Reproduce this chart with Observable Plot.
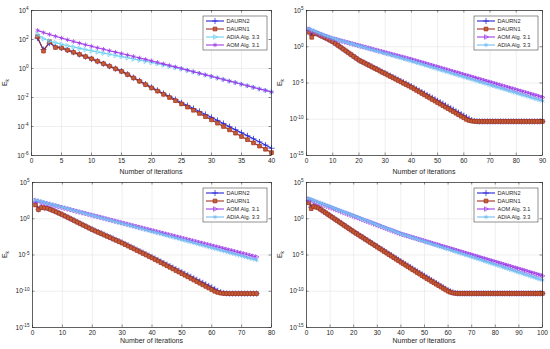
<!DOCTYPE html>
<html><head><meta charset="utf-8">
<script src="https://cdn.jsdelivr.net/npm/d3@7"></script>
<script src="https://cdn.jsdelivr.net/npm/@observablehq/plot@0.6"></script>
<style>
body{margin:0;background:#fff;}
#wrap{position:relative;width:550px;height:349px;overflow:hidden;background:#fff;font-family:"Liberation Sans",Arial,sans-serif;}
.panel{position:absolute;}
</style></head><body><div id="wrap"></div>
<script>
// ---- labels ----
const xLabelText = "Number of iterations";
const namesP1 = ["DAURN2", "DAURN1", "ADIA Alg. 3.3", "AOM Alg. 3.1"];
const namesP234 = ["DAURN2", "DAURN1", "AOM Alg. 3.1", "ADIA Alg. 3.3"];
// ---- tick values ----
const xTicksP1 = [0,5,10,15,20,25,30,35,40];
const xTicksP2 = [0,10,20,30,40,50,60,70,80,90];
const xTicksP3 = [0,10,20,30,40,50,60,70,80];
const xTicksP4 = [0,10,20,30,40,50,60,70,80,90,100];
const yTicksP1 = [1e-6,1e-4,1e-2,1e0,1e2,1e4];
const yTicksP234 = [1e-15,1e-10,1e-5,1e0,1e5];

// ---- series values (log10 of E_k), iteration = index + 1 ----
const p1Daurn2 = [2.10,1.30,1.75,1.50,1.42,1.27,1.12,0.97,0.82,0.67,
0.50,0.33,0.16,-0.01,-0.18,-0.40,-0.63,-0.85,-1.08,-1.30,
-1.51,-1.72,-1.93,-2.14,-2.36,-2.56,-2.76,-2.96,-3.17,-3.37,
-3.58,-3.79,-4.01,-4.22,-4.43,-4.64,-4.85,-5.06,-5.28,-5.50];
const p1Daurn1 = [2.20,1.20,1.85,1.45,1.42,1.27,1.12,0.97,0.82,0.67,
0.50,0.33,0.16,-0.02,-0.20,-0.42,-0.65,-0.88,-1.11,-1.34,
-1.56,-1.78,-2.00,-2.22,-2.44,-2.66,-2.88,-3.10,-3.32,-3.54,
-3.77,-4.00,-4.23,-4.46,-4.69,-4.91,-5.13,-5.35,-5.57,-5.80];
const p1Adia = [2.35,2.05,1.90,1.78,1.67,1.57,1.48,1.39,1.30,1.22,
1.14,1.06,0.98,0.90,0.82,0.74,0.66,0.58,0.50,0.42,
0.33,0.24,0.15,0.06,-0.03,-0.13,-0.24,-0.34,-0.45,-0.55,
-0.66,-0.76,-0.87,-0.97,-1.08,-1.19,-1.30,-1.41,-1.51,-1.62];
const p1Aom = [2.63,2.48,2.35,2.22,2.10,1.98,1.86,1.75,1.64,1.53,
1.43,1.33,1.23,1.13,1.03,0.93,0.83,0.73,0.63,0.53,
0.42,0.32,0.21,0.11,0.00,-0.11,-0.22,-0.33,-0.44,-0.54,
-0.65,-0.76,-0.87,-0.97,-1.08,-1.19,-1.30,-1.41,-1.51,-1.62];

const p2Daurn2 = [2.30,1.60,1.85,1.80,1.62,1.45,1.28,1.10,0.90,0.70,
0.45,0.19,-0.06,-0.32,-0.57,-0.83,-1.08,-1.34,-1.59,-1.85,
-2.03,-2.20,-2.38,-2.56,-2.74,-2.92,-3.10,-3.28,-3.46,-3.64,
-3.82,-4.00,-4.18,-4.36,-4.54,-4.72,-4.90,-5.08,-5.26,-5.45,
-5.65,-5.85,-6.05,-6.25,-6.45,-6.65,-6.85,-7.05,-7.25,-7.45,
-7.66,-7.86,-8.07,-8.27,-8.48,-8.68,-8.89,-9.09,-9.30,-9.50,
-9.72,-9.93,-10.12,-10.24,-10.28,-10.30,-10.30,-10.30,-10.30,-10.30,
-10.30,-10.30,-10.30,-10.30,-10.30,-10.30,-10.30,-10.30,-10.30,-10.30,
-10.30,-10.30,-10.30,-10.30,-10.30,-10.30,-10.30,-10.30,-10.30,-10.30];
const p2Daurn1 = [2.00,1.30,1.80,1.78,1.60,1.43,1.26,1.08,0.89,0.70,
0.45,0.19,-0.06,-0.32,-0.57,-0.83,-1.08,-1.34,-1.59,-1.85,
-2.04,-2.22,-2.41,-2.60,-2.79,-2.97,-3.16,-3.35,-3.54,-3.72,
-3.91,-4.10,-4.29,-4.47,-4.66,-4.85,-5.04,-5.22,-5.41,-5.60,
-5.81,-6.02,-6.23,-6.44,-6.65,-6.86,-7.07,-7.28,-7.49,-7.70,
-7.91,-8.12,-8.33,-8.54,-8.75,-8.96,-9.17,-9.38,-9.59,-9.80,
-10.02,-10.17,-10.25,-10.28,-10.30,-10.30,-10.30,-10.30,-10.30,-10.30,
-10.30,-10.30,-10.30,-10.30,-10.30,-10.30,-10.30,-10.30,-10.30,-10.30,
-10.30,-10.30,-10.30,-10.30,-10.30,-10.30,-10.30,-10.30,-10.30,-10.30];
const p2Aom = [2.40,2.25,2.10,1.95,1.80,1.67,1.54,1.41,1.28,1.15,
1.05,0.96,0.86,0.77,0.67,0.57,0.48,0.38,0.29,0.19,
0.09,0.00,-0.10,-0.19,-0.29,-0.39,-0.48,-0.58,-0.67,-0.77,
-0.87,-0.96,-1.06,-1.15,-1.25,-1.35,-1.44,-1.54,-1.63,-1.73,
-1.84,-1.94,-2.05,-2.15,-2.26,-2.36,-2.47,-2.57,-2.68,-2.78,
-2.89,-2.99,-3.10,-3.20,-3.31,-3.41,-3.52,-3.62,-3.73,-3.83,
-3.94,-4.04,-4.15,-4.25,-4.36,-4.46,-4.57,-4.67,-4.78,-4.88,
-4.99,-5.09,-5.20,-5.30,-5.41,-5.51,-5.62,-5.72,-5.83,-5.93,
-6.04,-6.14,-6.25,-6.35,-6.46,-6.56,-6.67,-6.77,-6.88,-6.98];
const p2Adia = [2.50,2.33,2.17,2.01,1.86,1.71,1.57,1.43,1.30,1.17,
1.06,0.96,0.85,0.75,0.64,0.54,0.43,0.33,0.22,0.12,
0.01,-0.09,-0.20,-0.30,-0.41,-0.51,-0.62,-0.72,-0.83,-0.93,
-1.04,-1.14,-1.25,-1.35,-1.46,-1.56,-1.67,-1.77,-1.88,-1.98,
-2.09,-2.20,-2.31,-2.42,-2.53,-2.64,-2.75,-2.86,-2.97,-3.08,
-3.19,-3.30,-3.41,-3.52,-3.63,-3.74,-3.85,-3.96,-4.07,-4.18,
-4.29,-4.40,-4.51,-4.62,-4.73,-4.84,-4.95,-5.06,-5.17,-5.28,
-5.39,-5.50,-5.61,-5.72,-5.83,-5.94,-6.05,-6.16,-6.27,-6.38,
-6.49,-6.60,-6.71,-6.82,-6.93,-7.04,-7.15,-7.26,-7.37,-7.48];

const p3Daurn2 = [2.30,1.30,1.60,1.52,1.47,1.30,1.13,0.95,0.76,0.57,
0.37,0.16,-0.04,-0.25,-0.45,-0.66,-0.86,-1.07,-1.27,-1.47,
-1.65,-1.83,-2.01,-2.19,-2.37,-2.55,-2.73,-2.91,-3.09,-3.27,
-3.47,-3.67,-3.87,-4.07,-4.27,-4.47,-4.67,-4.87,-5.07,-5.27,
-5.48,-5.69,-5.90,-6.11,-6.32,-6.53,-6.74,-6.95,-7.16,-7.37,
-7.58,-7.79,-8.00,-8.21,-8.42,-8.63,-8.84,-9.05,-9.26,-9.47,
-9.70,-9.93,-10.12,-10.24,-10.29,-10.32,-10.32,-10.32,-10.32,-10.32,
-10.32,-10.32,-10.32,-10.32,-10.32];
const p3Daurn1 = [1.90,1.25,1.55,1.50,1.45,1.28,1.11,0.93,0.74,0.55,
0.35,0.14,-0.06,-0.27,-0.48,-0.68,-0.89,-1.09,-1.30,-1.50,
-1.69,-1.87,-2.06,-2.24,-2.43,-2.61,-2.80,-2.98,-3.17,-3.35,
-3.56,-3.76,-3.97,-4.17,-4.38,-4.58,-4.79,-4.99,-5.20,-5.40,
-5.62,-5.83,-6.05,-6.27,-6.49,-6.70,-6.92,-7.14,-7.35,-7.57,
-7.79,-8.01,-8.23,-8.45,-8.67,-8.89,-9.11,-9.33,-9.55,-9.77,
-10.00,-10.16,-10.26,-10.30,-10.32,-10.32,-10.32,-10.32,-10.32,-10.32,
-10.32,-10.32,-10.32,-10.32,-10.32];
const p3Aom = [2.50,2.40,2.29,2.19,2.08,1.98,1.87,1.77,1.66,1.56,
1.45,1.35,1.24,1.14,1.03,0.93,0.82,0.72,0.61,0.51,
0.40,0.30,0.19,0.09,-0.02,-0.13,-0.23,-0.34,-0.44,-0.55,
-0.65,-0.76,-0.86,-0.97,-1.07,-1.18,-1.28,-1.39,-1.49,-1.60,
-1.70,-1.81,-1.91,-2.02,-2.12,-2.23,-2.33,-2.44,-2.54,-2.65,
-2.75,-2.86,-2.96,-3.07,-3.17,-3.28,-3.38,-3.49,-3.59,-3.70,
-3.80,-3.91,-4.01,-4.12,-4.22,-4.33,-4.43,-4.54,-4.64,-4.75,
-4.85,-4.96,-5.06,-5.17,-5.27];
const p3Adia = [2.60,2.49,2.38,2.26,2.15,2.04,1.93,1.81,1.70,1.59,
1.48,1.37,1.25,1.14,1.03,0.92,0.80,0.69,0.58,0.47,
0.36,0.24,0.13,0.02,-0.09,-0.21,-0.32,-0.43,-0.54,-0.65,
-0.77,-0.88,-0.99,-1.10,-1.21,-1.33,-1.44,-1.55,-1.66,-1.78,
-1.89,-2.00,-2.11,-2.22,-2.34,-2.45,-2.56,-2.67,-2.79,-2.90,
-3.01,-3.12,-3.23,-3.35,-3.46,-3.57,-3.68,-3.80,-3.91,-4.02,
-4.13,-4.24,-4.36,-4.47,-4.58,-4.69,-4.81,-4.92,-5.03,-5.14,
-5.25,-5.37,-5.48,-5.59,-5.70];

const p4Daurn2 = [2.50,1.60,1.75,1.65,1.52,1.30,1.08,0.86,0.64,0.42,
0.20,-0.02,-0.24,-0.46,-0.68,-0.90,-1.12,-1.34,-1.56,-1.77,
-1.97,-2.18,-2.38,-2.59,-2.79,-3.00,-3.20,-3.41,-3.61,-3.82,
-4.02,-4.23,-4.43,-4.64,-4.84,-5.05,-5.25,-5.46,-5.66,-5.87,
-6.07,-6.27,-6.47,-6.67,-6.87,-7.07,-7.27,-7.47,-7.67,-7.87,
-8.07,-8.27,-8.47,-8.67,-8.87,-9.07,-9.27,-9.47,-9.67,-9.85,
-10.02,-10.15,-10.24,-10.28,-10.30,-10.30,-10.30,-10.30,-10.30,-10.30,
-10.30,-10.30,-10.30,-10.30,-10.30,-10.30,-10.30,-10.30,-10.30,-10.30,
-10.30,-10.30,-10.30,-10.30,-10.30,-10.30,-10.30,-10.30,-10.30,-10.30,
-10.30,-10.30,-10.30,-10.30,-10.30,-10.30,-10.30,-10.30,-10.30,-10.30];
const p4Daurn1 = [2.20,1.40,1.70,1.62,1.50,1.28,1.06,0.84,0.62,0.40,
0.18,-0.04,-0.26,-0.48,-0.70,-0.92,-1.14,-1.36,-1.58,-1.80,
-2.01,-2.22,-2.43,-2.64,-2.85,-3.06,-3.27,-3.48,-3.69,-3.90,
-4.11,-4.32,-4.53,-4.74,-4.95,-5.16,-5.37,-5.58,-5.79,-6.00,
-6.21,-6.41,-6.62,-6.82,-7.03,-7.23,-7.44,-7.64,-7.85,-8.05,
-8.25,-8.44,-8.64,-8.83,-9.03,-9.22,-9.42,-9.61,-9.81,-10.00,
-10.14,-10.23,-10.28,-10.30,-10.30,-10.30,-10.30,-10.30,-10.30,-10.30,
-10.30,-10.30,-10.30,-10.30,-10.30,-10.30,-10.30,-10.30,-10.30,-10.30,
-10.30,-10.30,-10.30,-10.30,-10.30,-10.30,-10.30,-10.30,-10.30,-10.30,
-10.30,-10.30,-10.30,-10.30,-10.30,-10.30,-10.30,-10.30,-10.30,-10.30];
const p4Aom = [2.70,2.58,2.46,2.33,2.21,2.09,1.97,1.85,1.72,1.60,
1.48,1.36,1.24,1.11,0.99,0.87,0.75,0.63,0.50,0.38,
0.26,0.14,0.02,-0.11,-0.23,-0.35,-0.47,-0.59,-0.72,-0.84,
-0.96,-1.08,-1.20,-1.33,-1.45,-1.57,-1.69,-1.81,-1.94,-2.06,
-2.16,-2.25,-2.35,-2.45,-2.55,-2.64,-2.74,-2.84,-2.93,-3.03,
-3.13,-3.22,-3.32,-3.42,-3.52,-3.61,-3.71,-3.81,-3.90,-4.00,
-4.10,-4.19,-4.29,-4.39,-4.49,-4.58,-4.68,-4.78,-4.87,-4.97,
-5.07,-5.16,-5.26,-5.36,-5.46,-5.55,-5.65,-5.75,-5.84,-5.94,
-6.04,-6.13,-6.23,-6.33,-6.43,-6.52,-6.62,-6.72,-6.81,-6.91,
-7.01,-7.10,-7.20,-7.30,-7.40,-7.49,-7.59,-7.69,-7.78,-7.88];
const p4Adia = [2.80,2.68,2.55,2.43,2.30,2.18,2.05,1.93,1.80,1.68,
1.55,1.43,1.30,1.18,1.05,0.93,0.80,0.68,0.55,0.43,
0.30,0.18,0.05,-0.07,-0.20,-0.32,-0.45,-0.57,-0.70,-0.82,
-0.95,-1.07,-1.20,-1.32,-1.45,-1.57,-1.70,-1.82,-1.95,-2.07,
-2.18,-2.29,-2.39,-2.50,-2.61,-2.71,-2.82,-2.93,-3.03,-3.14,
-3.25,-3.35,-3.46,-3.57,-3.67,-3.78,-3.89,-3.99,-4.10,-4.21,
-4.31,-4.42,-4.53,-4.63,-4.74,-4.85,-4.95,-5.06,-5.17,-5.27,
-5.38,-5.49,-5.59,-5.70,-5.81,-5.91,-6.02,-6.13,-6.23,-6.34,
-6.45,-6.55,-6.66,-6.77,-6.87,-6.98,-7.09,-7.19,-7.30,-7.41,
-7.51,-7.62,-7.73,-7.83,-7.94,-8.05,-8.15,-8.26,-8.37,-8.47];

// ---- styles ----
const BLUE = "#2626d8", RED = "#a3321e", RED_FILL = "#c4603a", CYAN = "#6cd0f0", PURPLE = "#a03ce8", LBLUE = "#74bdf2";
const triRight = {draw(ctx, size){ const r = Math.sqrt(size/Math.PI)*1.15; ctx.moveTo(r,0); ctx.lineTo(-r*0.6,-r*0.95); ctx.lineTo(-r*0.6,r*0.95); ctx.closePath(); }};
const stylesP1 = [
  {color: BLUE, symbol: "plus"},
  {color: RED, symbol: "square", fill: RED_FILL},
  {color: CYAN, symbol: triRight},
  {color: PURPLE, symbol: "asterisk"}
];
const stylesP234 = [
  {color: BLUE, symbol: "plus"},
  {color: RED, symbol: "square", fill: RED_FILL},
  {color: PURPLE, symbol: triRight},
  {color: LBLUE, symbol: "asterisk"}
];
const d3Sym = {plus: d3.symbolPlus, square: d3.symbolSquare, asterisk: d3.symbolAsterisk, times: d3.symbolTimes};

const FONT = "Liberation Sans, Arial, Helvetica, sans-serif";
const INK = "#262626";
const MR = 2.1;

function makePanel(cfg){
  const {left, top, width, height, mt, mr, mb, ml, xDomain, xTicks, yDomain, yTicks, names, values, styles, xLabelY, yLabelX} = cfg;
  const innerH = height - mt - mb, innerW = width - ml - mr;
  const marks = [
    Plot.gridX(xTicks, {stroke: "#e4e4e4", strokeOpacity: 1, strokeWidth: 0.6}),
    Plot.gridY(yTicks, {stroke: "#e4e4e4", strokeOpacity: 1, strokeWidth: 0.6})
  ];
  values.forEach((vals, k) => {
    const data = vals.map((e, i) => ({x: i + 1, y: Math.pow(10, e)}));
    const st = styles[k];
    marks.push(Plot.line(data, {x: "x", y: "y", stroke: st.color, strokeWidth: 1.1}));
    marks.push(Plot.dot(data, {x: "x", y: "y", symbol: st.symbol, r: MR, stroke: st.color, fill: st.fill || "none", strokeWidth: 0.75}));
  });
  marks.push(
    Plot.tickX(xTicks, {x: d => d, stroke: INK, strokeWidth: 0.5, insetTop: innerH - 2.5}),
    Plot.tickX(xTicks, {x: d => d, stroke: INK, strokeWidth: 0.5, insetBottom: innerH - 2.5}),
    Plot.tickY(yTicks, {y: d => d, stroke: INK, strokeWidth: 0.5, insetRight: innerW - 2.5}),
    Plot.tickY(yTicks, {y: d => d, stroke: INK, strokeWidth: 0.5, insetLeft: innerW - 2.5}),
    Plot.frame({stroke: INK, strokeWidth: 0.7}),
    Plot.axisX(xTicks, {tickSize: 0, tickPadding: 3, fontSize: 6.5, label: null, fill: INK}),
    Plot.axisY(yTicks, {tickSize: 0, tickPadding: 3, fontSize: 6.5, label: null, fill: INK,
      tickFormat: d => "10^" + Math.round(Math.log10(d))})
  );
  const chart = Plot.plot({
    width, height, marginTop: mt, marginRight: mr, marginBottom: mb, marginLeft: ml,
    x: {domain: xDomain, label: null},
    y: {type: "log", domain: yDomain, label: null},
    style: {fontFamily: FONT, fontSize: "6.5px", color: INK, background: "transparent", overflow: "visible"},
    marks
  });
  const svg = d3.select(chart);
  // superscript exponents
  svg.selectAll("text").each(function(){
    const t = this.textContent;
    const m = t.match(/^10\^(-?\d+)$/);
    if (m) {
      const s = d3.select(this);
      s.text("10");
      s.append("tspan").attr("dy", "-0.5em").attr("font-size", "0.72em").text(m[1]);
    }
  });
  // x label
  svg.append("text").attr("x", ml + innerW / 2).attr("y", xLabelY)
    .attr("text-anchor", "middle").attr("dominant-baseline", "middle")
    .attr("font-size", 7).attr("fill", INK).attr("font-family", FONT).text(xLabelText);
  // y label E_k
  const yl = svg.append("text").attr("transform", `translate(${yLabelX},${mt + innerH / 2}) rotate(-90)`)
    .attr("text-anchor", "middle").attr("font-size", 7).attr("fill", INK).attr("font-family", FONT);
  yl.append("tspan").text("E");
  yl.append("tspan").attr("dy", "0.35em").attr("font-size", "0.7em").text("k");
  // legend
  const lw = 64, lh = 34;
  const lx = ml + innerW - 4 - lw, ly = mt + 6;
  const g = svg.append("g");
  g.append("rect").attr("x", lx).attr("y", ly).attr("width", lw).attr("height", lh)
    .attr("fill", "#fff").attr("stroke", INK).attr("stroke-width", 0.5);
  names.forEach((nm, i) => {
    const cy = ly + 5 + i * 8;
    const st = styles[i];
    g.append("line").attr("x1", lx + 3).attr("x2", lx + 21).attr("y1", cy).attr("y2", cy)
      .attr("stroke", st.color).attr("stroke-width", 1.1);
    const type = typeof st.symbol === "string" ? d3Sym[st.symbol] : st.symbol;
    g.append("path").attr("d", d3.symbol(type, Math.PI * MR * MR)())
      .attr("transform", `translate(${lx + 12},${cy})`)
      .attr("stroke", st.color).attr("stroke-width", 0.75).attr("fill", st.fill || "none");
    g.append("text").attr("x", lx + 23.5).attr("y", cy).attr("dominant-baseline", "central")
      .attr("text-anchor", "start")
      .attr("font-size", 5.6).attr("fill", INK).attr("font-family", FONT).text(nm);
  });
  const div = document.createElement("div");
  div.className = "panel";
  div.style.left = left + "px";
  div.style.top = top + "px";
  div.appendChild(chart);
  document.getElementById("wrap").appendChild(div);
}

makePanel({left: 0, top: 0, width: 275, height: 175, mt: 10, mr: 4, mb: 20, ml: 31,
  xDomain: [0, 40], xTicks: xTicksP1, yDomain: [1e-6, 1e4], yTicks: yTicksP1,
  names: namesP1, values: [p1Daurn2, p1Daurn1, p1Adia, p1Aom], styles: stylesP1, xLabelY: 172, yLabelX: 7});
makePanel({left: 275, top: 0, width: 275, height: 175, mt: 10, mr: 8, mb: 20, ml: 31,
  xDomain: [0, 90], xTicks: xTicksP2, yDomain: [1e-15, 1e5], yTicks: yTicksP234,
  names: namesP234, values: [p2Daurn2, p2Daurn1, p2Aom, p2Adia], styles: stylesP234, xLabelY: 172, yLabelX: 7});
makePanel({left: 0, top: 175, width: 275, height: 174, mt: 7, mr: 4, mb: 22, ml: 32,
  xDomain: [0, 80], xTicks: xTicksP3, yDomain: [1e-15, 1e5], yTicks: yTicksP234,
  names: namesP234, values: [p3Daurn2, p3Daurn1, p3Aom, p3Adia], styles: stylesP234, xLabelY: 166, yLabelX: 7});
makePanel({left: 275, top: 175, width: 275, height: 174, mt: 7, mr: 8, mb: 22, ml: 31,
  xDomain: [0, 100], xTicks: xTicksP4, yDomain: [1e-15, 1e5], yTicks: yTicksP234,
  names: namesP234, values: [p4Daurn2, p4Daurn1, p4Aom, p4Adia], styles: stylesP234, xLabelY: 166.5, yLabelX: 7});
</script>
</body></html>
